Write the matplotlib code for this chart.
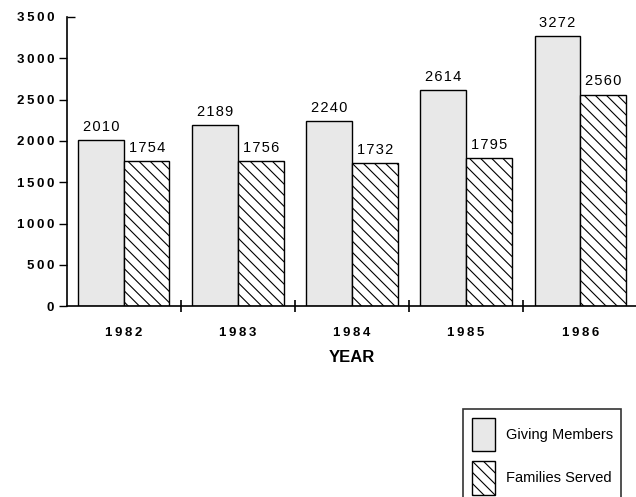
import numpy as np
import matplotlib.pyplot as plt
from matplotlib.lines import TICKRIGHT
from matplotlib.patches import Patch

years = ['1982', '1983', '1984', '1985', '1986']
giving_members = [2010, 2189, 2240, 2614, 3272]
families_served = [1754, 1756, 1732, 1795, 2560]
yticks = [0, 500, 1000, 1500, 2000, 2500, 3000, 3500]

plt.rcParams['font.family'] = ['Liberation Sans', 'DejaVu Sans']
plt.rcParams['hatch.linewidth'] = 0.8


def spaced(s):
    return '\u2009'.join(s)


fig = plt.figure(figsize=(6.36, 4.97), dpi=100)
ax = fig.add_axes([0.105, 0.384, 0.897, 0.582])

x = np.arange(len(years))
w = 0.4
b1 = ax.bar(x - w / 2, giving_members, w, color='#e8e8e8', edgecolor='black', linewidth=1.0)
b2 = ax.bar(x + w / 2, families_served, w, color='white', edgecolor='black',
            linewidth=1.0, hatch='\\\\\\')

for rect, v in zip(list(b1) + list(b2), giving_members + families_served):
    ax.text(rect.get_x() + rect.get_width() / 2, v + 75, '\u200a'.join(str(v)),
            ha='center', va='bottom', fontsize=10.5)

ax.set_xlim(-0.5, len(years) - 0.5)
ax.set_ylim(0, 3500)
ax.set_yticks(yticks)
ax.set_yticklabels([spaced(str(t)) for t in yticks], fontsize=9.5, fontweight='bold')
ax.set_xticks(x)
ax.set_xticklabels([spaced(y) for y in years], fontsize=9.5, fontweight='bold')
ax.set_xticks(np.arange(len(years) - 1) + 0.5, minor=True)
ax.tick_params(axis='x', which='major', length=0, pad=15)
ax.tick_params(axis='x', which='minor', direction='inout', length=9, width=1.2)
ax.tick_params(axis='y', which='major', direction='out', length=6, width=1.0, pad=3)
# top tick points inward like the original
ax.yaxis.get_major_ticks()[-1].tick1line.set_marker(TICKRIGHT)

for side in ['top', 'right']:
    ax.spines[side].set_visible(False)
ax.spines['left'].set_linewidth(1.2)
ax.spines['bottom'].set_linewidth(1.2)

ax.set_xlabel('YEAR', fontsize=12, fontweight='bold', labelpad=8)

handles = [Patch(facecolor='#e8e8e8', edgecolor='black', label='Giving Members'),
           Patch(facecolor='white', edgecolor='black', hatch='\\\\\\', label='Families Served')]
leg = fig.legend(handles=handles, loc='upper left', bbox_to_anchor=(463 / 636, 1 - 409 / 497),
                 frameon=True, fancybox=False, edgecolor='black', fontsize=10.5,
                 handlelength=1.57, handleheight=3.17, borderpad=0.6, labelspacing=0.69,
                 handletextpad=0.75, borderaxespad=0)
leg.get_frame().set_linewidth(1.2)

fig.savefig('out.png', dpi=100)
